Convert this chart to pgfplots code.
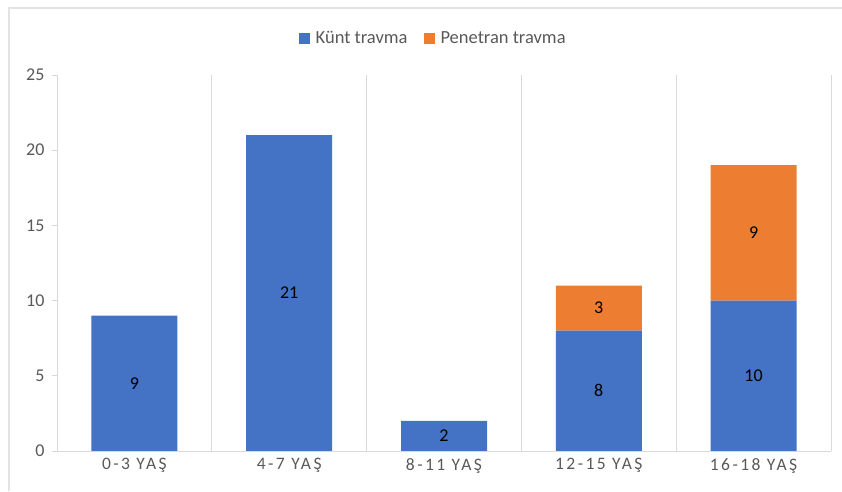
\documentclass[border=0pt]{standalone}
\usepackage{fontspec}
\setmainfont{Carlito}
\usepackage{pgfplots}
\pgfplotsset{compat=1.18}
\definecolor{cblue}{HTML}{4472C4}
\definecolor{corange}{HTML}{ED7D31}
\definecolor{gridgray}{HTML}{D9D9D9}
\definecolor{txtgray}{HTML}{595959}
\newfontfamily\spaced[LetterSpace=14]{Carlito}
\begin{document}
\begin{tikzpicture}
\path[use as bounding box] (0pt,0pt) rectangle (842pt,491pt);
\draw[gray!22, line width=1.5pt] (9pt,0pt) -- (9pt,483pt) -- (842pt,483pt);
\begin{axis}[
  at={(57pt,40pt)}, anchor=south west,
  scale only axis, width=774pt, height=376pt,
  ybar stacked, bar width=86pt,
  xmin=-0.5, xmax=4.5, ymin=0, ymax=25,
  ytick={0,5,...,25},
  xtick={0,1,2,3,4},
  xticklabels={0-3 YAŞ,4-7 YAŞ,8-11 YAŞ,12-15 YAŞ,16-18 YAŞ},
  xticklabel style={font=\spaced\fontsize{17.5}{20}\selectfont, text=txtgray, yshift=-4pt},
  yticklabel style={font=\fontsize{18}{21}\selectfont, text=txtgray, xshift=-4pt},
  /pgf/number format/assume math mode=true,
  minor xtick={-0.5,0.5,1.5,2.5,3.5,4.5},
  xminorgrids=true,
  minor grid style={draw=gridgray, line width=0.8pt},
  minor tick length=0pt,
  major x tick style={draw=none},
  ytick pos=left, ytick align=outside,
  major tick length=5pt,
  major y tick style={draw=gridgray, line width=0.8pt},
  axis line style={draw=none},
  ymajorgrids=false,
  legend style={at={(0.486,1.098)}, anchor=center, draw=none, fill=none,
    legend columns=2, font=\fontsize{18.5}{21}\selectfont, text=txtgray,
    /tikz/every even column/.append style={column sep=14pt}},
  legend image code/.code={\fill[#1] (0pt,-5.5pt) rectangle (11pt,5.5pt);},
  legend cell align=left,
  clip=false,
]
\draw[gridgray, line width=0.8pt] ([xshift=-5pt]rel axis cs:0,0) -- (rel axis cs:1,0);
\addplot[fill=cblue, draw=none] coordinates {(0,9) (1,21) (2,2) (3,8) (4,10)};
\addlegendentry{\hspace{4pt}Künt travma}
\addplot[fill=corange, draw=none] coordinates {(0,0) (1,0) (2,0) (3,3) (4,9)};
\addlegendentry{\hspace{4pt}Penetran travma}
\end{axis}
\begin{axis}[
  at={(57pt,40pt)}, anchor=south west,
  scale only axis, width=774pt, height=376pt,
  xmin=-0.5, xmax=4.5, ymin=0, ymax=25,
  hide axis, clip=false,
]
\addplot[draw=none, mark=none, nodes near coords, point meta=explicit symbolic,
  every node near coord/.style={anchor=center, font=\fontsize{18}{21}\selectfont, text=black}]
  table[meta=lab] {
x y lab
0 4.5 9
1 10.5 21
2 1 2
3 4 8
3 9.5 3
4 5 10
4 14.5 9
};
\end{axis}
\end{tikzpicture}
\end{document}
